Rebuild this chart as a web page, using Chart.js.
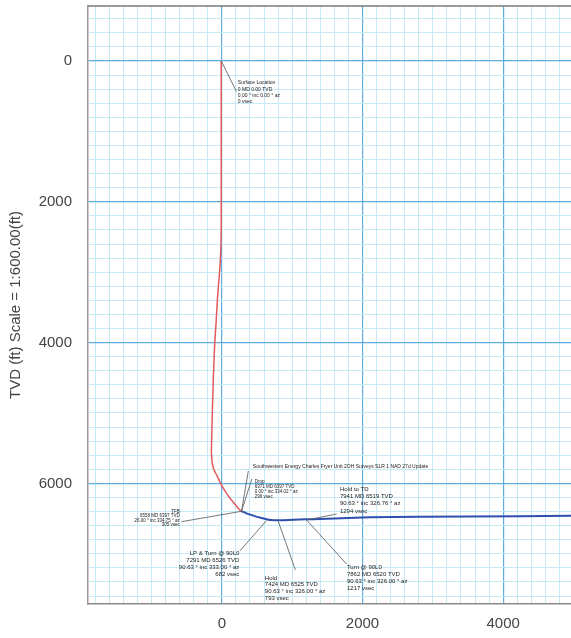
<!DOCTYPE html>
<html><head><meta charset="utf-8">
<script src="https://cdn.jsdelivr.net/npm/chart.js@4/dist/chart.umd.min.js"></script>
<style>html,body{margin:0;padding:0;background:#fff;overflow:hidden}</style>
</head><body>
<canvas id="c" width="571" height="638"></canvas>
<script>
// ---- data ----
const xTickLabels = [0, 2000, 4000];
const yTickLabels = [0, 2000, 4000, 6000];
const xRange = [-1902, 4964];
const yRange = [-781, 7713];
const gridStep = 200;
const yTitle = 'TVD (ft) Scale = 1:600.00(ft)';

// vertical / tangent section (red)
const tangentVsec = [-8, -8, -10, -15, -25, -40, -60, -80, -100, -120, -135, -145, -148, -140, -120, -85, -45, -4, 55, 114, 190, 256, 280];
const tangentTvd  = [0, 2300, 2500, 2700, 2900, 3100, 3350, 3700, 4000, 4500, 5000, 5400, 5550, 5680, 5780, 5860, 5940, 6023, 6120, 6207, 6300, 6378, 6396];
// curve + lateral (blue)
const lateralVsec = [280, 350, 422, 500, 587, 650, 700, 800, 950, 1100, 1300, 2100, 3500, 5000];
const lateralTvd  = [6396, 6425, 6449, 6475, 6496, 6512, 6520, 6523, 6520, 6514, 6508, 6482, 6470, 6460];

// annotations
const annoText = [
  ["Surface Location", "0 MD 0.00 TVD", "0.00 ° inc 0.00 ° az", "0 vsec"],
  ["Southwestern Energy Charles Fryer Unit 2OH Surveys SLR 1 NAD 27d Update"],
  ["Drop", "6371 MD 6397 TVD", "0.00 ° inc 334.02 ° az", "296 vsec"],
  ["TFB", "6558 MD 6397 TVD", "26.00 ° inc 334.75 ° az", "305 vsec"],
  ["Hold to TD", "7941 MD 6519 TVD", "90.63 ° inc 326.76 ° az", "1294 vsec"],
  ["Turn @ 90L0", "7862 MD 6520 TVD", "90.63 ° inc 326.00 ° az", "1217 vsec"],
  ["Hold", "7424 MD 6525 TVD", "90.63 ° inc 326.00 ° az", "793 vsec"],
  ["LP & Turn @ 90L0", "7291 MD 6526 TVD", "90.63 ° inc 333.00 ° az", "682 vsec"]
];
const annoPoint  = [[-8,0],[280,6396],[280,6396],[280,6396],[1205,6520],[1205,6520],[801,6534],[636,6527]];
const annoElbow  = [[209,436],[377,5824],[427,5938],[-573,6544],[1632,6435],[1774,7145],[1046,7230],[256,6960]];
const annoTextAt = [[228,312],[441,5767],[469,5976],[-597,6402],[1679,6084],[1778,7188],[612,7344],[249,6989]];

// ---- styles ----
const annoAlign = ['left','left','left','right','left','left','left','right'];
const annoSize  = [5, 5, 4.5, 4.5, 6, 6, 6, 6];
const annoGap   = [6.3, 6, 5, 4.5, 7.2, 7.2, 6.8, 7.2];
const FONT = "'Liberation Sans', Arial, sans-serif";
const MAJOR = '#5eace0', MINOR = '#c4eaf3';

function mkTicks(min, max) {
  const out = [];
  for (let v = Math.ceil(min / gridStep) * gridStep; v <= max; v += gridStep) out.push({ value: v });
  return out;
}
function isMajor(c, labels) { return !!(c.tick && labels.includes(Math.round(c.tick.value))); }
function gridColor(labels) { return c => isMajor(c, labels) ? MAJOR : MINOR; }
function gridWidth(labels) { return c => isMajor(c, labels) ? 1.2 : 1; }
function noPad(s) { s.paddingTop = 0; s.paddingBottom = 0; s.paddingLeft = 0; s.paddingRight = 0; }

const annoPlugin = {
  id: 'anno',
  afterDatasetsDraw(chart) {
    const { ctx, scales: { x, y } } = chart;
    ctx.save();
    annoText.forEach((lines, i) => {
      const p = annoPoint[i], e = annoElbow[i], t = annoTextAt[i];
      ctx.strokeStyle = '#555';
      ctx.lineWidth = 0.8;
      ctx.beginPath();
      ctx.moveTo(x.getPixelForValue(p[0]), y.getPixelForValue(p[1]));
      ctx.lineTo(x.getPixelForValue(e[0]), y.getPixelForValue(e[1]));
      ctx.stroke();
      ctx.fillStyle = '#222';
      ctx.font = annoSize[i] + 'px ' + FONT;
      ctx.textAlign = annoAlign[i];
      ctx.textBaseline = 'middle';
      const tx = x.getPixelForValue(t[0]), ty = y.getPixelForValue(t[1]);
      lines.forEach((s, k) => ctx.fillText(s, tx, ty + k * annoGap[i]));
    });
    ctx.restore();
  },
  afterDraw(chart) {
    const { ctx, chartArea: a } = chart;
    ctx.save();
    ctx.strokeStyle = '#7a7a7a';
    ctx.lineWidth = 1.6;
    ctx.beginPath();
    ctx.moveTo(a.left, a.top);
    ctx.lineTo(a.right, a.top);
    ctx.stroke();
    ctx.restore();
  }
};

new Chart(document.getElementById('c'), {
  type: 'scatter',
  data: {
    datasets: [
      { data: tangentVsec.map((v, i) => ({ x: v, y: tangentTvd[i] })), showLine: true,
        borderColor: '#e25a5e', borderWidth: 1.5, pointRadius: 0, tension: 0.15 },
      { data: lateralVsec.map((v, i) => ({ x: v, y: lateralTvd[i] })), showLine: true,
        borderColor: '#2f4fae', borderWidth: 2, pointRadius: 0, tension: 0.15 }
    ]
  },
  options: {
    responsive: false,
    animation: false,
    events: [],
    layout: { padding: { top: 6, left: 0, right: 0, bottom: 0 } },
    plugins: { legend: { display: false }, tooltip: { enabled: false } },
    scales: {
      x: {
        type: 'linear', min: xRange[0], max: xRange[1],
        afterBuildTicks: s => { s.ticks = mkTicks(xRange[0], xRange[1]); },
        afterFit: s => { s.height = 34; noPad(s); },
        grid: { color: gridColor(xTickLabels), lineWidth: gridWidth(xTickLabels), drawTicks: false },
        border: { color: '#8a8a8a', width: 1.5 },
        ticks: { autoSkip: false, maxRotation: 0, padding: 11, color: '#444',
          font: { size: 15, family: FONT },
          callback: v => xTickLabels.includes(v) ? String(v) : '' }
      },
      y: {
        type: 'linear', reverse: true, min: yRange[0], max: yRange[1],
        afterBuildTicks: s => { s.ticks = mkTicks(yRange[0], yRange[1]); },
        afterFit: s => { s.width = 88; noPad(s); },
        grid: { color: gridColor(yTickLabels), lineWidth: gridWidth(yTickLabels), drawTicks: false },
        border: { color: '#9a9a9a', width: 1.5 },
        title: { display: true, text: yTitle, color: '#444', font: { size: 15, family: FONT }, padding: { top: 7, bottom: 0 } },
        ticks: { autoSkip: false, padding: 16, color: '#444',
          font: { size: 15, family: FONT },
          callback: v => yTickLabels.includes(v) ? String(v) : '' }
      }
    }
  },
  plugins: [annoPlugin]
});
</script>
</body></html>
